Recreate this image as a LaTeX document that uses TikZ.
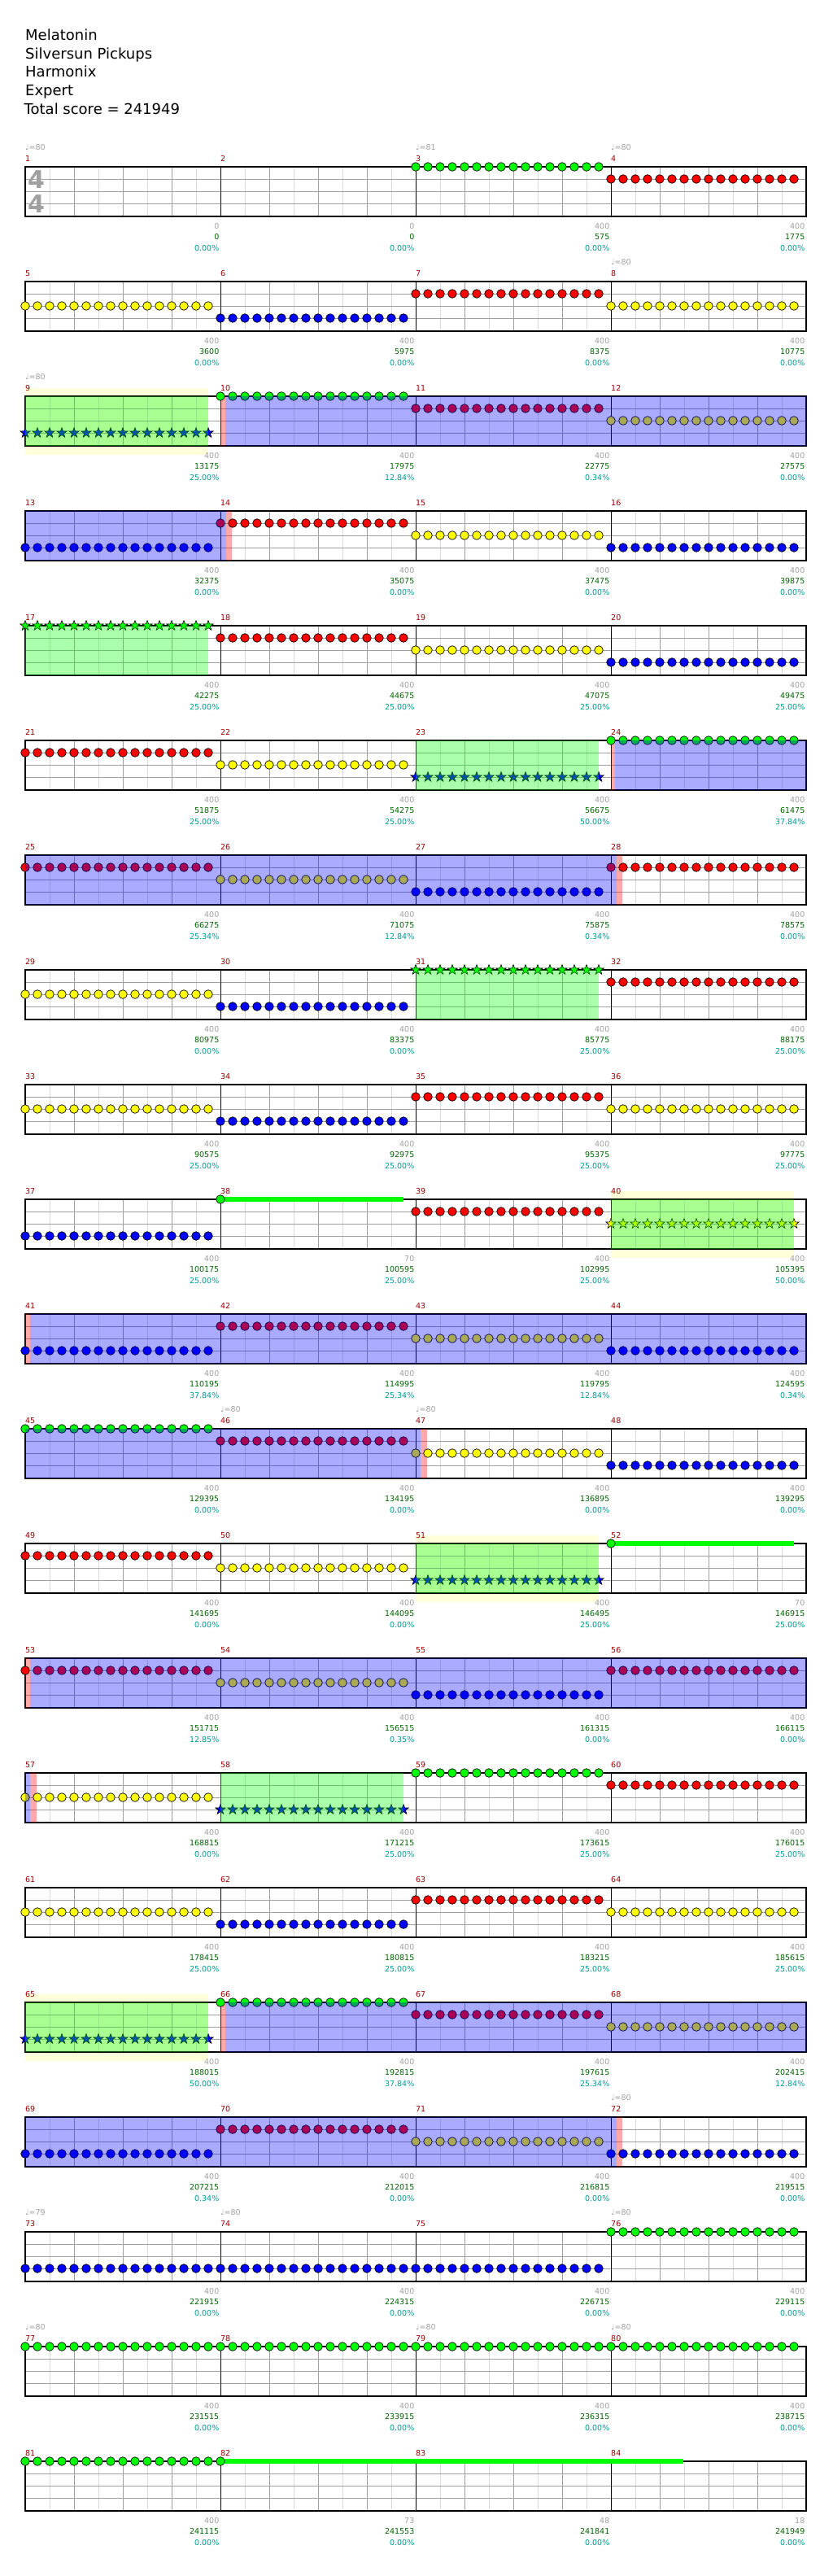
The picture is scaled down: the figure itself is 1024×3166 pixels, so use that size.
\documentclass[tikz,border=0pt]{standalone}
\usepackage{fontspec}
\setmainfont{DejaVu Sans}
\usetikzlibrary{shapes.geometric}
\definecolor{lane0}{RGB}{0,255,0}
\definecolor{lane1}{RGB}{255,0,0}
\definecolor{lane2}{RGB}{255,255,0}
\definecolor{lane3}{RGB}{0,0,255}
\definecolor{gridgray}{RGB}{160,160,160}
\definecolor{gridlight}{RGB}{218,218,218}
\definecolor{numred}{RGB}{150,0,0}
\definecolor{scoregreen}{RGB}{0,100,0}
\definecolor{pctteal}{RGB}{0,153,153}
\definecolor{labgray}{RGB}{160,160,160}
\definecolor{phrase}{RGB}{255,255,218}
\newcommand\labfont{\fontsize{9.5}{11}\selectfont}
\begin{document}
\begin{tikzpicture}[x=1pt,y=-1pt,
  note/.style={draw=black, line width=0.7pt},
  starnote/.style={star, star points=5, star point ratio=2.5, minimum size=13pt, inner sep=0pt, draw=black, line width=0.6pt},
  numlab/.style={text=numred, font=\labfont, inner sep=0pt, anchor=base west},
  toplab/.style={text=labgray, font=\labfont, inner sep=0pt, anchor=base east},
  scorelab/.style={text=scoregreen, font=\labfont, inner sep=0pt, anchor=base east},
  pctlab/.style={text=pctteal, font=\labfont, inner sep=0pt, anchor=base east},
  tempolab/.style={text=labgray, font=\labfont, inner sep=0pt, anchor=base west},
  head/.style={font=\fontsize{18}{22}\selectfont, inner sep=0pt, anchor=base west},
  sustain/.style={lane0, line width=6.5pt},
  bluezone/.style={lane3, fill opacity=0.333},
  greenzone/.style={lane0, fill opacity=0.333},
  redbar/.style={lane1, fill opacity=0.333}]
\useasboundingbox (0,0) rectangle (1024,3166);
\fill[white] (0,0) rectangle (1024,3166);

% header
\node[head] (title) at (31,49.3) {Melatonin};
\node[head] (artist) at (31,72.3) {Silversun Pickups};
\node[head] (author) at (31,95) {Harmonix};
\node[head] (level) at (31,118) {Expert};
\node[head] (total) at (29.5,141) {Total score = 241949};

% overdrive phrase bands
\foreach \r/\x in {2/31,9/751,12/511,16/31}
  \fill[phrase] (\x,205+141*\r-10.5) rectangle (\x+225,205+141*\r+72);

% staff grids
\foreach \r in {0,...,20}{
  \pgfmathsetmacro\T{205+141*\r}
  \foreach \j in {1,3,...,31} \draw[gridlight, line width=1pt] (31+30*\j,\T) -- (31+30*\j,\T+61);
  \foreach \j in {2,4,6,10,12,14,18,20,22,26,28,30} \draw[gridgray, line width=1pt] (31+30*\j,\T) -- (31+30*\j,\T+61);
  \foreach \l in {1,2,3} \draw[gridgray, line width=1pt] (31,\T+15*\l) -- (991,\T+15*\l);
  \foreach \j in {1,2,3} \draw[black, line width=1pt] (31+240*\j,\T) -- (31+240*\j,\T+61);
  \draw[black, line width=1.2pt] (31,\T) rectangle (991,\T+61);
}

% time signature
\node[text=gridgray, font=\fontsize{30}{30}\selectfont\bfseries, inner sep=0pt] (tsA) at (44.5,220.5) {4};
\node[text=gridgray, font=\fontsize{30}{30}\selectfont\bfseries, inner sep=0pt] (tsB) at (44.5,250.8) {4};

% red bars
\foreach \r/\a/\b in {2/271/277, 3/278/285, 5/751/756, 6/758/765, 10/31/37, 11/517/525, 13/31/37, 14/37/45, 16/271/277, 17/758/765}
  \fill[redbar] (\a,205+141*\r) rectangle (\b,205+141*\r+61);

% sustains
\draw[sustain] (271,1474) -- (496,1474);
\draw[sustain] (751,1897) -- (976,1897);
\draw[sustain] (271,3025) -- (840,3025);

% gems
\foreach \m/\l in {3/0,4/1,5/2,6/3,7/1,8/2,10/0,11/1,12/2,13/3,14/1,15/2,16/3,18/1,19/2,20/3,21/1,22/2,24/0,25/1,26/2,27/3,28/1,29/2,30/3,32/1,33/2,34/3,35/1,36/2,37/3,39/1,41/3,42/1,43/2,44/3,45/0,46/1,47/2,48/3,49/1,50/2,53/1,54/2,55/3,56/1,57/2,59/0,60/1,61/2,62/3,63/1,64/2,66/0,67/1,68/2,69/3,70/1,71/2,72/3,73/3,74/3,75/3,76/0,77/0,78/0,79/0,80/0,81/0}{
  \pgfmathtruncatemacro\r{(\m-1)/4}
  \pgfmathtruncatemacro\c{\m-1-4*\r}
  \pgfmathsetmacro\X{31+240*\c}
  \pgfmathsetmacro\Y{205+141*\r+15*\l}
  \foreach \q in {0,...,15} \filldraw[note, fill=lane\l] (\X+15*\q,\Y) circle (5.3);
}
\foreach \m/\l in {38/0,52/0,82/0}{
  \pgfmathtruncatemacro\r{(\m-1)/4}
  \pgfmathtruncatemacro\c{\m-1-4*\r}
  \pgfmathsetmacro\X{31+240*\c}
  \pgfmathsetmacro\Y{205+141*\r+15*\l}
  \filldraw[note, fill=lane\l] (\X,\Y) circle (5.3);
}
\foreach \m/\l in {9/3,17/0,23/3,31/0,40/2,51/3,58/3,65/3}{
  \pgfmathtruncatemacro\r{(\m-1)/4}
  \pgfmathtruncatemacro\c{\m-1-4*\r}
  \pgfmathsetmacro\X{31+240*\c}
  \pgfmathsetmacro\Y{205+141*\r+15*\l}
  \foreach \q in {0,...,15} \node[starnote, fill=lane\l] (s\m x\q) at (\X+15*\q,\Y) {};
}

% star power zones
\foreach \r/\a/\b in {2/277/991, 3/31/278, 5/756/991, 6/31/758, 10/37/991, 11/31/517, 13/37/991, 14/31/37, 16/277/991, 17/31/758}
  \fill[bluezone] (\a,205+141*\r) rectangle (\b,205+141*\r+61);
\foreach \r/\a in {2/31,4/31,5/511,7/511,9/751,12/511,14/271,16/31}
  \fill[greenzone] (\a,205+141*\r) rectangle (\a+225,205+141*\r+61);

% tempo marks
\foreach \m/\t in {1/80,3/81,4/80,8/80,9/80,46/80,47/80,72/80,73/79,74/80,76/80,77/80,79/80,80/80}{
  \pgfmathtruncatemacro\r{(\m-1)/4}
  \pgfmathtruncatemacro\c{\m-1-4*\r}
  \pgfmathsetmacro\X{31+240*\c}
  \pgfmathsetmacro\T{205+141*\r}
  \node[tempolab] (tempo\m) at (\X,\T-20.3) {♩=\t};
}

% measure labels
\foreach \m/\a/\b/\p in {1/0/0/0.00,2/0/0/0.00,3/400/575/0.00,4/400/1775/0.00,
5/400/3600/0.00,6/400/5975/0.00,7/400/8375/0.00,8/400/10775/0.00,
9/400/13175/25.00,10/400/17975/12.84,11/400/22775/0.34,12/400/27575/0.00,
13/400/32375/0.00,14/400/35075/0.00,15/400/37475/0.00,16/400/39875/0.00,
17/400/42275/25.00,18/400/44675/25.00,19/400/47075/25.00,20/400/49475/25.00,
21/400/51875/25.00,22/400/54275/25.00,23/400/56675/50.00,24/400/61475/37.84,
25/400/66275/25.34,26/400/71075/12.84,27/400/75875/0.34,28/400/78575/0.00,
29/400/80975/0.00,30/400/83375/0.00,31/400/85775/25.00,32/400/88175/25.00,
33/400/90575/25.00,34/400/92975/25.00,35/400/95375/25.00,36/400/97775/25.00,
37/400/100175/25.00,38/70/100595/25.00,39/400/102995/25.00,40/400/105395/50.00,
41/400/110195/37.84,42/400/114995/25.34,43/400/119795/12.84,44/400/124595/0.34,
45/400/129395/0.00,46/400/134195/0.00,47/400/136895/0.00,48/400/139295/0.00,
49/400/141695/0.00,50/400/144095/0.00,51/400/146495/25.00,52/70/146915/25.00,
53/400/151715/12.85,54/400/156515/0.35,55/400/161315/0.00,56/400/166115/0.00,
57/400/168815/0.00,58/400/171215/25.00,59/400/173615/25.00,60/400/176015/25.00,
61/400/178415/25.00,62/400/180815/25.00,63/400/183215/25.00,64/400/185615/25.00,
65/400/188015/50.00,66/400/192815/37.84,67/400/197615/25.34,68/400/202415/12.84,
69/400/207215/0.34,70/400/212015/0.00,71/400/216815/0.00,72/400/219515/0.00,
73/400/221915/0.00,74/400/224315/0.00,75/400/226715/0.00,76/400/229115/0.00,
77/400/231515/0.00,78/400/233915/0.00,79/400/236315/0.00,80/400/238715/0.00,
81/400/241115/0.00,82/73/241553/0.00,83/48/241841/0.00,84/18/241949/0.00}{
  \pgfmathtruncatemacro\r{(\m-1)/4}
  \pgfmathtruncatemacro\c{\m-1-4*\r}
  \pgfmathsetmacro\X{31+240*\c}
  \pgfmathsetmacro\E{\X+240-1.5}
  \pgfmathsetmacro\T{205+141*\r}
  \node[numlab] (num\m) at (\X,\T-7) {\m};
  \node[toplab] (top\m) at (\E,\T+76.4) {\a};
  \node[scorelab] (score\m) at (\E,\T+89.7) {\b};
  \node[pctlab] (pct\m) at (\E,\T+103) {\p\%};
}
\end{tikzpicture}
\end{document}
